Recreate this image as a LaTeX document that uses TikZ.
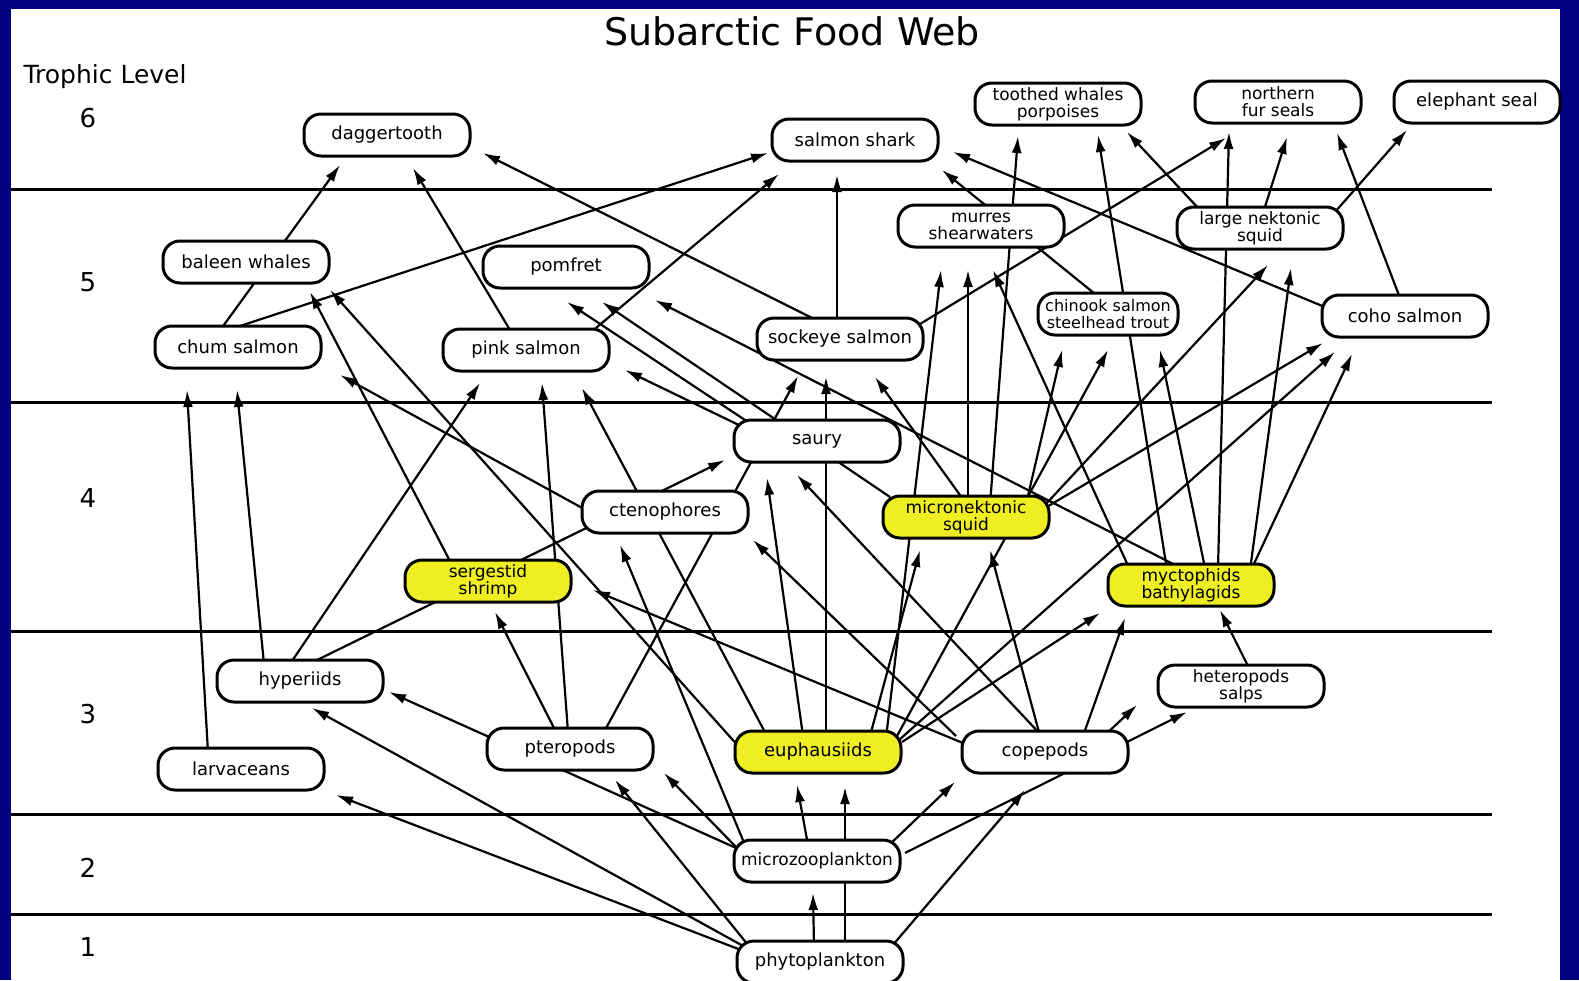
\documentclass[tikz,border=0pt]{standalone}
\usepackage{fontspec}
\setmainfont{DejaVu Sans}
\usetikzlibrary{arrows.meta, calc}

\definecolor{framenavy}{RGB}{0,0,128}
\definecolor{keyyellow}{RGB}{238,238,34}

\pgfdeclarelayer{back}
\pgfdeclarelayer{edges}
\pgfsetlayers{back,edges,main}

\begin{document}
\begin{tikzpicture}[
    x=1pt, y=-1pt,
    organism/.style={draw, fill=white, line width=3pt, rounded corners=17pt,
        minimum width=166pt, minimum height=42pt, inner sep=0pt,
        font=\fontsize{18}{17}\selectfont, align=center},
    twoline/.style={font=\fontsize{17}{17}\selectfont},
    keyprey/.style={organism, fill=keyyellow},
    eats/.style={line width=2.2pt, -{Latex[length=17pt,width=10pt]}},
    levelline/.style={line width=3pt},
    levelnum/.style={font=\fontsize{26}{26}\selectfont, anchor=base}
  ]
  \useasboundingbox (0,0) rectangle (1579,980);

  \begin{pgfonlayer}{back}
    \fill[framenavy] (0,0) rectangle (1579,980);
    \fill[white] (11,9) rectangle (1560,980);
    \foreach \ly in {189,402,631,814,914}
      \draw[levelline] (11,\ly) -- (1492,\ly);
  \end{pgfonlayer}

  \node[font=\fontsize{38}{38}\selectfont, anchor=base] (title) at (792,45) {Subarctic Food Web};
  \node[font=\fontsize{25}{25}\selectfont, anchor=base west] (trophic) at (20,83) {Trophic Level};
  \foreach \n/\ly in {6/127,5/291,4/507,3/723,2/877,1/956}
    \node[levelnum] (lv\n) at (88,\ly) {\n};

  % level 6
  \node[organism] (dagger) at (387,135) {daggertooth};
  \node[organism] (shark) at (855,140) {salmon shark};
  \node[organism, twoline] (toothed) at (1058,104) {toothed whales\\porpoises};
  \node[organism, twoline] (furseal) at (1278,102) {northern\\fur seals};
  \node[organism] (eleseal) at (1477,102) {elephant seal};
  % level 5
  \node[organism] (baleen) at (246,262) {baleen whales};
  \node[organism] (pomfret) at (566,267) {pomfret};
  \node[organism, twoline] (murres) at (981,226) {murres\\shearwaters};
  \node[organism, twoline] (largesq) at (1260,228) {large nektonic\\squid};
  \node[organism] (chum) at (238,347) {chum salmon};
  \node[organism] (pink) at (526,350) {pink salmon};
  \node[organism] (sockeye) at (840,339) {sockeye salmon};
  \node[organism, minimum width=140pt, font=\fontsize{16}{16.5}\selectfont] (chinook) at (1108,314) {chinook salmon\\steelhead trout};
  \node[organism] (coho) at (1405,316) {coho salmon};
  % level 4
  \node[organism] (saury) at (817,441) {saury};
  \node[organism] (cteno) at (665,512) {ctenophores};
  \node[keyprey, twoline] (microsq) at (966,517) {micronektonic\\squid};
  \node[keyprey, twoline] (sergestid) at (488,581) {sergestid\\shrimp};
  \node[keyprey, twoline] (myct) at (1191,585) {myctophids\\bathylagids};
  % level 3
  \node[organism] (hyper) at (300,681) {hyperiids};
  \node[organism, twoline] (hetero) at (1241,686) {heteropods\\salps};
  \node[organism] (ptero) at (570,749) {pteropods};
  \node[keyprey] (euph) at (818,752) {euphausiids};
  \node[organism] (cope) at (1045,752) {copepods};
  \node[organism] (larv) at (241,769) {larvaceans};
  % levels 2 and 1
  \node[organism, font=\fontsize{17}{17}\selectfont] (microzoo) at (817,861) {microzooplankton};
  \node[organism] (phyto) at (820,962) {phytoplankton};

  \begin{pgfonlayer}{edges}
    % into level 6
    \draw[eats] ($(chum)+(-25,-7)$) -- ($(dagger)+(-47,30)$);
    \draw[eats] ($(pink)+(-16,-20)$) -- ($(dagger)+(26,33)$);
    \draw[eats] ($(sockeye)+(-14,-14)$) -- ($(dagger)+(96,18)$);
    \draw[eats] ($(chum)+(2,-21)$) -- ($(shark)+(-87,13)$);
    \draw[eats] ($(pink)+(64,-17)$) -- ($(shark)+(-76,34)$);
    \draw[eats] ($(sockeye)+(-3,-17)$) -- ($(shark)+(-18,35)$);
    \draw[eats] ($(chinook)+(-8,-16)$) -- ($(shark)+(87,30)$);
    \draw[eats] ($(coho)+(-78,-8)$) -- ($(shark)+(98,12)$);
    \draw[eats] ($(microsq)+(24,-12)$) -- ($(toothed)+(-40,32)$);
    \draw[eats] ($(myct)+(-24,-15)$) -- ($(toothed)+(40,31)$);
    \draw[eats] ($(largesq)+(-60,-18)$) -- ($(toothed)+(69,28)$);
    \draw[eats] ($(sockeye)+(80,-15)$) -- ($(furseal)+(-52,36)$);
    \draw[eats] ($(myct)+(27,-17)$) -- ($(furseal)+(-49,30)$);
    \draw[eats] ($(largesq)+(4,-18)$) -- ($(furseal)+(9,35)$);
    \draw[eats] ($(coho)+(-5,-18)$) -- ($(furseal)+(59,31)$);
    \draw[eats] ($(largesq)+(75,-16)$) -- ($(eleseal)+(-70,28)$);
    % into level 5
    \draw[eats] ($(euph)+(68,-14)$) -- ($(murres)+(-40,44)$);
    \draw[eats] ($(microsq)+(2,-15)$) -- ($(murres)+(-13,44)$);
    \draw[eats] ($(myct)+(-61,-15)$) -- ($(murres)+(12,44)$);
    \draw[eats] ($(microsq)+(79,-12)$) -- ($(largesq)+(8,37)$);
    \draw[eats] ($(myct)+(59,-15)$) -- ($(largesq)+(31,40)$);
    \draw[eats] ($(sergestid)+(-36,-16)$) -- ($(baleen)+(64,30)$);
    \draw[eats] ($(euph)+(-78,-4)$) -- ($(baleen)+(84,28)$);
    \draw[eats] ($(larv)+(-33,-17)$) -- ($(chum)+(-51,43)$);
    \draw[eats] ($(hyper)+(-36,-17)$) -- ($(chum)+(-1,43)$);
    \draw[eats] ($(cteno)+(-70,3)$) -- ($(chum)+(102,28)$);
    \draw[eats] ($(hyper)+(-10,-17)$) -- ($(pink)+(-46,33)$);
    \draw[eats] ($(ptero)+(-2,-17)$) -- ($(pink)+(16,33)$);
    \draw[eats] ($(euph)+(-51,-16)$) -- ($(pink)+(56,38)$);
    \draw[eats] ($(saury)+(-72,-13)$) -- ($(pink)+(99,20)$);
    \draw[eats] ($(saury)+(-69,-19)$) -- ($(pomfret)+(1,35)$);
    \draw[eats] ($(microsq)+(-76,-20)$) -- ($(pomfret)+(36,35)$);
    \draw[eats] ($(myct)+(-10,-17)$) -- ($(pomfret)+(89,33)$);
    \draw[eats] ($(ptero)+(35,-19)$) -- ($(sockeye)+(-42,37)$);
    \draw[eats] ($(euph)+(8,-14)$) -- ($(sockeye)+(-14,38)$);
    \draw[eats] ($(microsq)+(-1,-15)$) -- ($(sockeye)+(35,38)$);
    \draw[eats] ($(microsq)+(61,-17)$) -- ($(chinook)+(-46,36)$);
    \draw[eats] ($(euph)+(79,-16)$) -- ($(chinook)+(0,36)$);
    \draw[eats] ($(myct)+(14,-17)$) -- ($(chinook)+(52,36)$);
    \draw[eats] ($(microsq)+(79,-9)$) -- ($(coho)+(-82,27)$);
    \draw[eats] ($(euph)+(81,-12)$) -- ($(coho)+(-70,36)$);
    \draw[eats] ($(myct)+(61,-17)$) -- ($(coho)+(-53,38)$);
    % into level 4
    \draw[eats] ($(hyper)+(13,-19)$) -- ($(saury)+(-92,19)$);
    \draw[eats] ($(euph)+(-15,-16)$) -- ($(saury)+(-50,37)$);
    \draw[eats] ($(cope)+(-3,-16)$) -- ($(saury)+(-20,34)$);
    \draw[eats] ($(microzoo)+(-72,-16)$) -- ($(cteno)+(-45,33)$);
    \draw[eats] ($(cope)+(-89,-16)$) -- ($(cteno)+(88,28)$);
    \draw[eats] ($(euph)+(52,-16)$) -- ($(microsq)+(-46,33)$);
    \draw[eats] ($(cope)+(-5,-16)$) -- ($(microsq)+(24,33)$);
    \draw[eats] ($(euph)+(84,-10)$) -- ($(myct)+(-91,28)$);
    \draw[eats] ($(cope)+(38,-16)$) -- ($(myct)+(-66,33)$);
    \draw[eats] ($(hetero)+(7,-20)$) -- ($(myct)+(29,25)$);
    \draw[eats] ($(ptero)+(-15,-19)$) -- ($(sergestid)+(7,31)$);
    \draw[eats] ($(cope)+(-70,-4)$) -- ($(sergestid)+(105,9)$);
    % into level 3
    \draw[eats] ($(microzoo)+(-72,-9)$) -- ($(hyper)+(89,11)$);
    \draw[eats] ($(phyto)+(-75,-15)$) -- ($(hyper)+(12,27)$);
    \draw[eats] ($(phyto)+(-72,-17)$) -- ($(ptero)+(45,31)$);
    \draw[eats] ($(microzoo)+(-80,-13)$) -- ($(ptero)+(94,24)$);
    \draw[eats] ($(microzoo)+(-9,-16)$) -- ($(euph)+(-21,33)$);
    \draw[eats] ($(phyto)+(25,-16)$) -- ($(euph)+(27,35)$);
    \draw[eats] ($(microzoo)+(71,-15)$) -- ($(cope)+(-90,30)$);
    \draw[eats] ($(phyto)+(72,-16)$) -- ($(cope)+(-20,38)$);
    \draw[eats] ($(microzoo)+(88,-8)$) -- ($(hetero)+(-54,26)$);
    \draw[eats] ($(cope)+(59,-16)$) -- ($(hetero)+(-104,19)$);
    \draw[eats] ($(phyto)+(-79,-12)$) -- ($(larv)+(95,26)$);
    % into level 2
    \draw[eats] ($(phyto)+(-6,-16)$) -- ($(microzoo)+(-4,32)$);
  \end{pgfonlayer}
\end{tikzpicture}
\end{document}
